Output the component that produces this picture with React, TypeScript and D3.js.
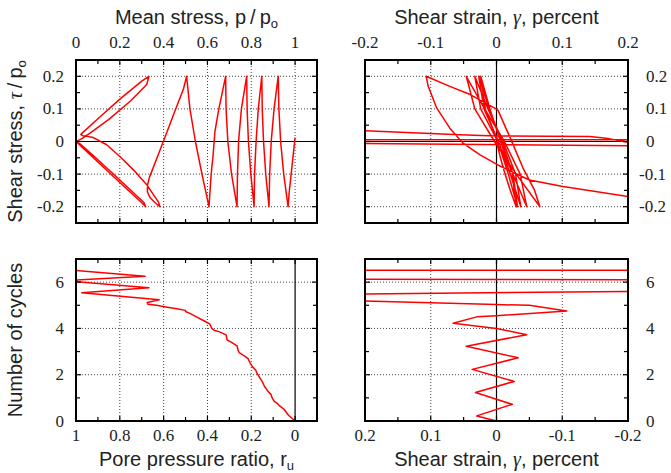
import React from "react";
import * as d3 from "d3";

// ---------- Data ----------
// Top-left: stress path (mean stress p/po vs shear stress tau/po)
const meanStress = [
  1.0, 0.99, 0.982, 0.974, 0.968, 0.948, 0.934, 0.926, 0.923, 0.904, 0.891, 0.884, 0.881,
  0.866, 0.856, 0.85, 0.848, 0.832, 0.822, 0.815, 0.813, 0.798, 0.787, 0.781, 0.779,
  0.755, 0.742, 0.737, 0.735, 0.71, 0.693, 0.685, 0.683, 0.652, 0.634, 0.626, 0.617, 0.607,
  0.575, 0.545, 0.52, 0.505, 0.49, 0.455, 0.41, 0.37, 0.335, 0.326, 0.326, 0.338, 0.36, 0.383,
  0.376, 0.323, 0.262, 0.2, 0.14, 0.079, 0.03, 0.022, 0.1, 0.2, 0.3, 0.333,
  0.323, 0.25, 0.15, 0.064, 0.025, 0.0, 0.1, 0.2, 0.3, 0.318, 0.31, 0.2, 0.1, 0.02, 0.0,
];
const shearStressTL = [
  0.012, -0.05, -0.1, -0.15, -0.2, -0.1, 0.0, 0.1, 0.2, 0.1, 0.0, -0.1, -0.2,
  -0.1, 0.0, 0.1, 0.2, 0.1, 0.0, -0.1, -0.2, -0.1, 0.0, 0.1, 0.2,
  0.1, 0.0, -0.1, -0.2, -0.1, 0.0, 0.1, 0.2, 0.1, 0.03, -0.04, -0.1, -0.2,
  -0.1, 0.0, 0.1, 0.2, 0.16, 0.1, 0.02, -0.05, -0.11, -0.135, -0.155, -0.172, -0.187, -0.2,
  -0.185, -0.133, -0.087, -0.046, -0.01, 0.012, 0.018, 0.022, 0.07, 0.13, 0.185, 0.2,
  0.175, 0.125, 0.068, 0.026, 0.008, 0.0, -0.063, -0.126, -0.188, -0.2, -0.187, -0.118, -0.056, -0.008, 0.0,
];

// Top-right: shear strain (percent) vs shear stress
const strainTR = [
  0, 0.006, 0.013, 0.021, 0.03, 0.024, 0.006, -0.01, -0.024, -0.017, 0.002, 0.018, 0.032,
  0.025, 0.008, -0.011, -0.027, -0.019, 0.003, 0.021, 0.037, 0.029, 0.01, -0.013, -0.033,
  -0.024, 0.002, 0.025, 0.046, 0.036, 0.012, -0.018, -0.046, -0.033, -0.003, 0.03, 0.066,
  0.058, 0.04, 0.02, 0.002, -0.04, -0.071, -0.107, -0.104, -0.091, -0.071, -0.051, -0.025,
  0.002, 0.05, 0.101, 0.2, 0.4, 0.8, 0.8, 0.5, 0.3, 0.2, 0.167, 0.142, 0.0, -0.056, -0.2,
  -0.5, -0.8, -0.8, -0.5, -0.2, 0.2, 0.5, 0.8, 0.8, 0.5, 0.2, -0.2, -0.5, -0.8,
];
const shearStressTR = [
  0, -0.05, -0.1, -0.15, -0.2, -0.1, 0.0, 0.1, 0.2, 0.1, 0.0, -0.1, -0.2,
  -0.1, 0.0, 0.1, 0.2, 0.1, 0.0, -0.1, -0.2, -0.1, 0.0, 0.1, 0.2,
  0.1, 0.0, -0.1, -0.2, -0.1, 0.0, 0.1, 0.2, 0.1, 0.0, -0.1, -0.2,
  -0.15, -0.08, 0.015, 0.097, 0.144, 0.169, 0.2, 0.17, 0.103, 0.041, -0.005, -0.041,
  -0.072, -0.118, -0.138, -0.169, -0.19, -0.2, -0.1, -0.02, -0.008, -0.002, 0.01, 0.015, 0.017, 0.021, 0.033,
  0.06, 0.2, 0.1, 0.01, 0.005, 0.005, 0.0, -0.2, -0.1, -0.01, -0.013, -0.006, 0.0, 0.0,
];

// Bottom-left: pore pressure ratio vs number of cycles
const poreRatio = [
  0, 0.03, 0.05, 0.07, 0.08, 0.095, 0.105, 0.11, 0.125, 0.14, 0.15, 0.16, 0.17, 0.18, 0.195,
  0.205, 0.215, 0.23, 0.255, 0.26, 0.265, 0.29, 0.31, 0.315, 0.345, 0.37, 0.38, 0.39, 0.41,
  0.45, 0.48, 0.5, 0.5, 0.54, 0.59, 0.632, 0.672, 0.675, 0.62, 0.974, 0.667, 0.995, 0.997, 0.685, 1.0,
];
const cyclesBL = [
  0, 0.25, 0.5, 0.65, 0.75, 0.85, 1.0, 1.15, 1.3, 1.5, 1.7, 1.85, 2.0, 2.2, 2.35,
  2.5, 2.7, 2.8, 2.95, 3.05, 3.25, 3.4, 3.5, 3.72, 3.85, 3.92, 4.0, 4.2, 4.3,
  4.5, 4.65, 4.73, 4.78, 4.85, 4.93, 5.0, 5.04, 5.12, 5.24, 5.54, 5.76, 6.02, 6.09, 6.25, 6.5,
];

// Bottom-right: shear strain vs number of cycles
const strainBR = [
  0, 0.03, -0.024, 0.032, -0.027, 0.037, -0.033, 0.046, -0.046, 0.0, 0.066, 0.03, 0.0, -0.107,
  -0.05, 0.0, 0.2, 0.6, 0.6, 0.2, -0.2, -0.6, -0.6, -0.2, 0.2, 0.6, 0.6, 0.2, -0.2, -0.6,
];
const cyclesBR = [
  0, 0.22, 0.72, 1.23, 1.71, 2.23, 2.73, 3.23, 3.73, 4.0, 4.22, 4.5, 4.55, 4.75,
  5.0, 5.03, 5.18, 5.3, 5.4, 5.49, 5.6, 5.75, 5.95, 6.1, 6.12, 6.25, 6.45, 6.51, 6.51, 6.52,
];

// Ticks
const meanTicks = [0, 0.2, 0.4, 0.6, 0.8, 1];
const meanMinor = [0.1, 0.3, 0.5, 0.7, 0.9];
const tauTicks = [-0.2, -0.1, 0, 0.1, 0.2];
const tauMinor = [-0.15, -0.05, 0.05, 0.15];
const strainTicks = [-0.2, -0.1, 0, 0.1, 0.2];
const strainMinor = [-0.15, -0.05, 0.05, 0.15];
const ruTicks = [1, 0.8, 0.6, 0.4, 0.2, 0];
const ruMinor = [0.9, 0.7, 0.5, 0.3, 0.1];
const cycleTicks = [0, 2, 4, 6];
const cycleMinor = [1, 3, 5, 7];

const SANS = "'Liberation Sans', Arial, sans-serif";
const SERIF = "'Liberation Serif', 'DejaVu Serif', serif";
const RED = "#ff0000";
const INK = "#222";

type Scale = d3.ScaleLinear<number, number>;

function Panel(props: {
  id: string;
  xs: Scale;
  ys: Scale;
  xv: number[];
  yv: number[];
  xTicks: number[];
  xMinor: number[];
  yTicks: number[];
  yMinor: number[];
  xGrid: number[];
  yGrid: number[];
  zeroX?: number;
  zeroY?: number;
  xLabelPos: "top" | "bottom";
  yLabelSide: "left" | "right";
}) {
  const { id, xs, ys, xv, yv } = props;
  const [l, r] = [Math.min(...xs.range()), Math.max(...xs.range())];
  const [t, b] = [Math.min(...ys.range()), Math.max(...ys.range())];
  const line = d3
    .line<number>()
    .x((_, i) => xs(xv[i]))
    .y((_, i) => ys(yv[i]));
  const idx = xv.map((_, i) => i);
  const major = 5;
  const minor = 4;
  return (
    <g>
      <defs>
        <clipPath id={id}>
          <rect x={l} y={t} width={r - l} height={b - t} />
        </clipPath>
      </defs>
      {props.xGrid.map((v) => (
        <line key={"gx" + v} x1={xs(v)} x2={xs(v)} y1={t} y2={b} stroke="#444" strokeWidth={1} strokeDasharray="1,2" />
      ))}
      {props.yGrid.map((v) => (
        <line key={"gy" + v} x1={l} x2={r} y1={ys(v)} y2={ys(v)} stroke="#444" strokeWidth={1} strokeDasharray="1,2" />
      ))}
      {props.zeroX !== undefined && (
        <line x1={xs(props.zeroX)} x2={xs(props.zeroX)} y1={t} y2={b} stroke="#000" strokeWidth={1.2} />
      )}
      {props.zeroY !== undefined && (
        <line x1={l} x2={r} y1={ys(props.zeroY)} y2={ys(props.zeroY)} stroke="#000" strokeWidth={1.2} />
      )}
      <path d={line(idx) || ""} fill="none" stroke={RED} strokeWidth={1.5} strokeLinejoin="round" clipPath={`url(#${id})`} />
      {props.xTicks.map((v) => (
        <g key={"tx" + v}>
          <line x1={xs(v)} x2={xs(v)} y1={b} y2={b - major} stroke="#000" strokeWidth={1.2} />
          <line x1={xs(v)} x2={xs(v)} y1={t} y2={t + major} stroke="#000" strokeWidth={1.2} />
        </g>
      ))}
      {props.xMinor.map((v) => (
        <g key={"mx" + v}>
          <line x1={xs(v)} x2={xs(v)} y1={b} y2={b - minor} stroke="#000" strokeWidth={1.2} />
          <line x1={xs(v)} x2={xs(v)} y1={t} y2={t + minor} stroke="#000" strokeWidth={1.2} />
        </g>
      ))}
      {props.yTicks.map((v) => (
        <g key={"ty" + v}>
          <line x1={l} x2={l + major} y1={ys(v)} y2={ys(v)} stroke="#000" strokeWidth={1.2} />
          <line x1={r} x2={r - major} y1={ys(v)} y2={ys(v)} stroke="#000" strokeWidth={1.2} />
        </g>
      ))}
      {props.yMinor.map((v) => (
        <g key={"my" + v}>
          <line x1={l} x2={l + minor} y1={ys(v)} y2={ys(v)} stroke="#000" strokeWidth={1.2} />
          <line x1={r} x2={r - minor} y1={ys(v)} y2={ys(v)} stroke="#000" strokeWidth={1.2} />
        </g>
      ))}
      <rect x={l} y={t} width={r - l} height={b - t} fill="none" stroke="#000" strokeWidth={2} />
      {props.xTicks.map((v) => (
        <text
          key={"lx" + v}
          x={xs(v)}
          y={props.xLabelPos === "top" ? 48 : 441}
          textAnchor="middle"
          fontFamily={SERIF}
          fontSize={17}
          fill={INK}
        >
          {String(v)}
        </text>
      ))}
      {props.yTicks.map((v) =>
        props.yLabelSide === "left" ? (
          <text key={"ly" + v} x={64} y={ys(v) + 5.5} textAnchor="end" fontFamily={SERIF} fontSize={17} fill={INK}>
            {String(v)}
          </text>
        ) : (
          <text key={"ly" + v} x={v < 0 ? 639 : 646} y={ys(v) + 5.5} textAnchor="start" fontFamily={SERIF} fontSize={17} fill={INK}>
            {String(v)}
          </text>
        )
      )}
    </g>
  );
}

export default function App() {
  const xTL = d3.scaleLinear().domain([0, 1.1]).range([76, 317]);
  const yTop = d3.scaleLinear().domain([-0.25, 0.25]).range([223, 60]);
  const xTR = d3.scaleLinear().domain([-0.2, 0.2]).range([365, 628]);
  const xBL = d3.scaleLinear().domain([1, -0.1]).range([76, 317]);
  const yBot = d3.scaleLinear().domain([0, 7]).range([421, 259]);
  const xBR = d3.scaleLinear().domain([0.2, -0.2]).range([365, 628]);

  return (
    <svg
      width={671}
      height={473}
      style={{ position: "absolute", left: 0, top: 0, background: "#fff" }}
      xmlns="http://www.w3.org/2000/svg"
    >
      <rect width={671} height={473} fill="#fff" />
      <Panel
        id="c1"
        xs={xTL}
        ys={yTop}
        xv={meanStress}
        yv={shearStressTL}
        xTicks={meanTicks}
        xMinor={meanMinor}
        yTicks={tauTicks}
        yMinor={tauMinor}
        xGrid={meanTicks.filter((v) => v > 0)}
        yGrid={tauTicks.filter((v) => v !== 0)}
        zeroY={0}
        xLabelPos="top"
        yLabelSide="left"
      />
      <Panel
        id="c2"
        xs={xTR}
        ys={yTop}
        xv={strainTR}
        yv={shearStressTR}
        xTicks={strainTicks}
        xMinor={strainMinor}
        yTicks={tauTicks}
        yMinor={tauMinor}
        xGrid={strainTicks.filter((v) => v !== 0 && Math.abs(v) < 0.2)}
        yGrid={tauTicks.filter((v) => v !== 0)}
        zeroX={0}
        zeroY={0}
        xLabelPos="top"
        yLabelSide="right"
      />
      <Panel
        id="c3"
        xs={xBL}
        ys={yBot}
        xv={poreRatio}
        yv={cyclesBL}
        xTicks={ruTicks}
        xMinor={ruMinor}
        yTicks={cycleTicks}
        yMinor={cycleMinor}
        xGrid={ruTicks.filter((v) => v !== 0 && v !== 1)}
        yGrid={cycleTicks.filter((v) => v !== 0)}
        zeroX={0}
        xLabelPos="bottom"
        yLabelSide="left"
      />
      <Panel
        id="c4"
        xs={xBR}
        ys={yBot}
        xv={strainBR}
        yv={cyclesBR}
        xTicks={strainTicks}
        xMinor={strainMinor}
        yTicks={cycleTicks}
        yMinor={cycleMinor}
        xGrid={strainTicks.filter((v) => v !== 0 && Math.abs(v) < 0.2)}
        yGrid={cycleTicks.filter((v) => v !== 0)}
        zeroX={0}
        xLabelPos="bottom"
        yLabelSide="right"
      />
      {/* Titles */}
      <text x={196.5} y={24} textAnchor="middle" fontFamily={SANS} fontSize={20} fill={INK}>
        Mean stress, p{"\u2009/\u2009"}p<tspan fontSize={13} dy={4}>o</tspan>
      </text>
      <text x={496.5} y={24} textAnchor="middle" fontFamily={SANS} fontSize={20} fill={INK}>
        Shear strain, <tspan fontFamily={SERIF} fontStyle="italic">γ</tspan>, percent
      </text>
      <text x={196.5} y={466} textAnchor="middle" fontFamily={SANS} fontSize={20} fill={INK}>
        Pore pressure ratio, r<tspan fontSize={13} dy={4}>u</tspan>
      </text>
      <text x={496.5} y={466} textAnchor="middle" fontFamily={SANS} fontSize={20} fill={INK}>
        Shear strain, <tspan fontFamily={SERIF} fontStyle="italic">γ</tspan>, percent
      </text>
      <text transform="translate(22,141.5) rotate(-90)" textAnchor="middle" fontFamily={SANS} fontSize={20} fill={INK}>
        Shear stress, <tspan fontFamily={SERIF} fontStyle="italic">τ</tspan>{"\u2009/\u2009"}p<tspan fontSize={13} dy={4}>o</tspan>
      </text>
      <text transform="translate(22,340) rotate(-90)" textAnchor="middle" fontFamily={SANS} fontSize={20} fill={INK}>
        Number of cycles
      </text>
    </svg>
  );
}
